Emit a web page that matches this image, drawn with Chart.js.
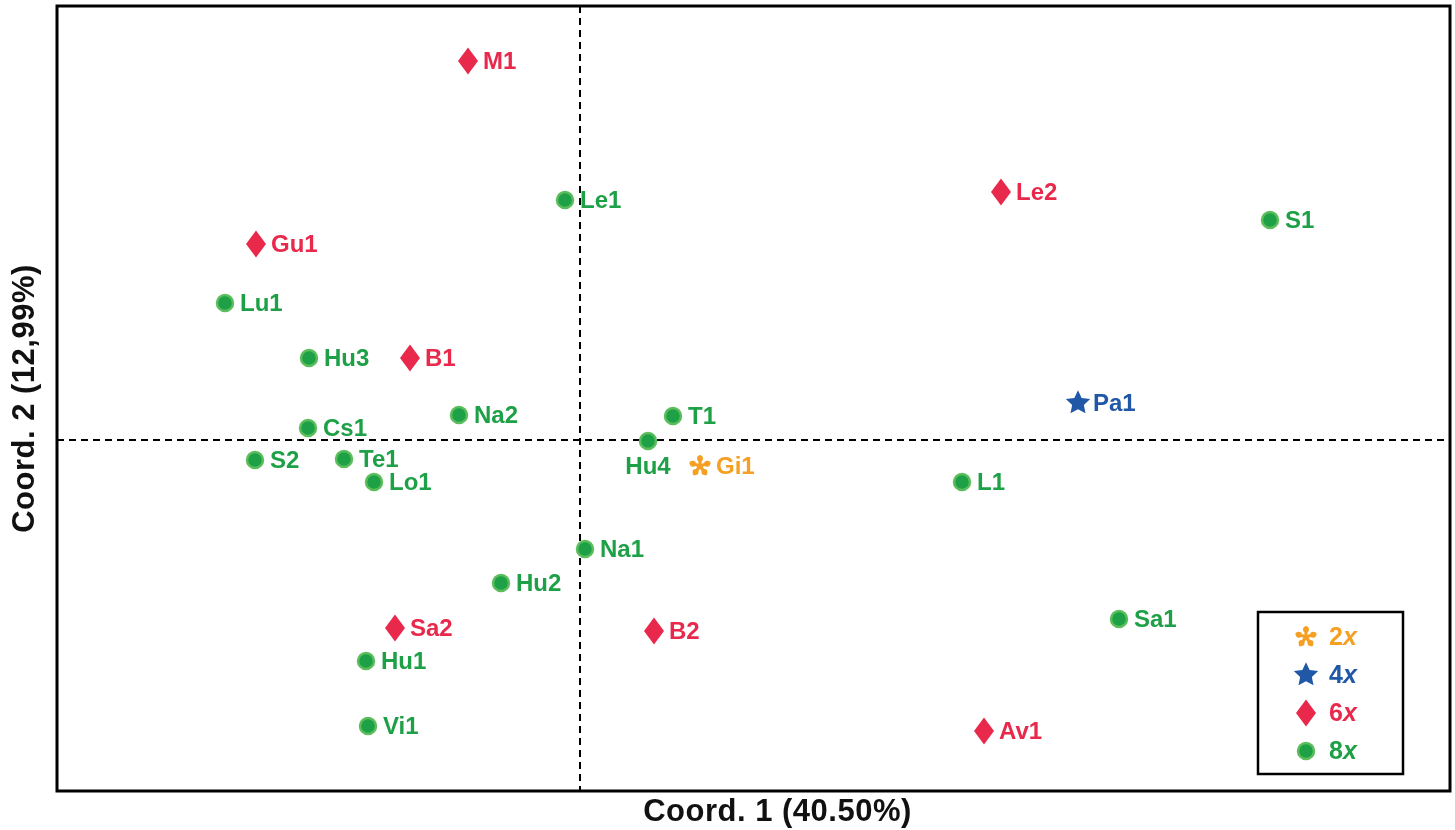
<!DOCTYPE html>
<html>
<head>
<meta charset="utf-8">
<script src="https://cdn.jsdelivr.net/npm/chart.js@4"></script>
<style>
  body{margin:0;background:#fff;}
  #wrap{width:1455px;height:830px;}
</style>
</head>
<body>
<div id="wrap"><canvas id="pcoa" width="1455" height="830"></canvas></div>
<script>
// PCoA coordinates (origin at the dashed lines)
const names2x=["Gi1"];
const x2x=[1.20];
const y2x=[-0.26];

const names4x=["Pa1"];
const x4x=[4.98];
const y4x=[0.37];

const names6x=["M1","Le2","Gu1","B1","Sa2","B2","Av1"];
const x6x=[-1.12,4.21,-3.24,-1.70,-1.85,0.74,4.04];
const y6x=[3.79,2.48,1.96,0.82,-1.88,-1.91,-2.91];

const names8x=["Le1","S1","Lu1","Hu3","Na2","T1","Cs1","Hu4","S2","Te1","Lo1","L1","Na1","Hu2","Sa1","Hu1","Vi1"];
const x8x=[-0.15,6.90,-3.55,-2.71,-1.21,0.93,-2.72,0.68,-3.25,-2.36,-2.06,3.82,0.05,-0.79,5.39,-2.14,-2.12];
const y8x=[2.40,2.20,1.37,0.82,0.25,0.24,0.12,-0.01,-0.20,-0.19,-0.42,-0.42,-1.09,-1.43,-1.79,-2.21,-2.86];

const levels=["2x","4x","6x","8x"];
const xTitle="Coord. 1 (40.50%)";
const yTitle="Coord. 2 (12,99%)";

const ORANGE='#f5a023', BLUE='#2157a7', RED='#e8294c', GREEN='#1ea047', GREEN_EDGE='#5cbd5c';

// marker drawing helpers
function drawAsterisk(ctx,cx,cy,r){
  ctx.save();ctx.strokeStyle=ORANGE;ctx.fillStyle=ORANGE;ctx.lineWidth=3.2;ctx.lineCap='round';
  for(let i=0;i<5;i++){
    const a=-Math.PI/2+i*2*Math.PI/5;
    const ex=cx+r*Math.cos(a), ey=cy+r*Math.sin(a);
    ctx.beginPath();ctx.moveTo(cx,cy);ctx.lineTo(ex,ey);ctx.stroke();
    ctx.beginPath();ctx.arc(cx+(r-2)*Math.cos(a),cy+(r-2)*Math.sin(a),3,0,Math.PI*2);ctx.fill();
  }
  ctx.restore();
}
function drawStar(ctx,cx,cy,r){
  ctx.save();ctx.fillStyle=BLUE;ctx.beginPath();
  for(let i=0;i<10;i++){
    const rr=i%2?r*0.48:r;
    const a=-Math.PI/2+i*Math.PI/5;
    ctx.lineTo(cx+rr*Math.cos(a),cy+rr*Math.sin(a));
  }
  ctx.closePath();ctx.fill();ctx.restore();
}
function drawDiamond(ctx,cx,cy,w,h){
  ctx.save();ctx.fillStyle=RED;ctx.beginPath();
  ctx.moveTo(cx,cy-h/2);ctx.lineTo(cx+w/2,cy);ctx.lineTo(cx,cy+h/2);ctx.lineTo(cx-w/2,cy);
  ctx.closePath();ctx.fill();ctx.restore();
}
function drawDot(ctx,cx,cy,r){
  ctx.save();ctx.fillStyle=GREEN;ctx.strokeStyle=GREEN_EDGE;ctx.lineWidth=2.5;
  ctx.beginPath();ctx.arc(cx,cy,r,0,Math.PI*2);ctx.fill();ctx.stroke();ctx.restore();
}
function makeIcon(w,h,fn){
  const c=document.createElement('canvas');c.width=w;c.height=h;
  fn(c.getContext('2d'),w/2,h/2);return c;
}
const icons={
  "2x":makeIcon(26,26,(c,x,y)=>drawAsterisk(c,x,y,9.5)),
  "4x":makeIcon(28,28,(c,x,y)=>drawStar(c,x,y,12.8)),
  "6x":makeIcon(24,30,(c,x,y)=>drawDiamond(c,x,y,20,27)),
  "8x":makeIcon(22,22,(c,x,y)=>drawDot(c,x,y,8))
};

const pts=(xs,ys,ns)=>xs.map((v,i)=>({x:v,y:ys[i],name:ns[i]}));
const datasets=[
  {label:"2x",data:pts(x2x,y2x,names2x),color:ORANGE},
  {label:"4x",data:pts(x4x,y4x,names4x),color:BLUE},
  {label:"6x",data:pts(x6x,y6x,names6x),color:RED},
  {label:"8x",data:pts(x8x,y8x,names8x),color:GREEN}
].map(d=>({label:d.label,data:d.data,labelColor:d.color,pointStyle:icons[d.label],pointRadius:10,pointHoverRadius:10,backgroundColor:d.color,borderColor:d.color}));

const FONT='"Liberation Sans", Arial, sans-serif';

const decor={
  id:'decor',
  beforeDatasetsDraw(chart){
    const {ctx,chartArea:a,scales:{x,y}}=chart;
    const x0=x.getPixelForValue(0), y0=y.getPixelForValue(0);
    ctx.save();ctx.strokeStyle='#000';ctx.lineWidth=2;ctx.setLineDash([7,5]);
    ctx.beginPath();ctx.moveTo(x0,a.top);ctx.lineTo(x0,a.bottom);ctx.stroke();
    ctx.beginPath();ctx.moveTo(a.left,y0);ctx.lineTo(a.right,y0);ctx.stroke();
    ctx.restore();
  },
  afterDatasetsDraw(chart){
    const {ctx,chartArea:a}=chart;
    ctx.save();
    // point labels
    ctx.font='bold 24px '+FONT;ctx.textBaseline='middle';
    chart.data.datasets.forEach((ds,di)=>{
      const meta=chart.getDatasetMeta(di);
      ctx.fillStyle=ds.labelColor;
      meta.data.forEach((el,i)=>{
        const nm=ds.data[i].name;
        if(nm==="Hu4"){ctx.textAlign='center';ctx.fillText(nm,el.x,el.y+26);}
        else{ctx.textAlign='left';ctx.fillText(nm,el.x+(ds.label==="2x"?16:15),el.y+1);}
      });
    });
    // frame
    ctx.strokeStyle='#000';ctx.lineWidth=3;ctx.setLineDash([]);
    ctx.strokeRect(a.left,a.top,a.right-a.left,a.bottom-a.top);
    // legend box
    const lx=1258,ly=612,lw=145,lh=162;
    ctx.lineWidth=2.5;ctx.strokeRect(lx,ly,lw,lh);
    levels.forEach((lv,i)=>{
      const cy=637+i*38, ic=icons[lv];
      ctx.drawImage(ic,1306-ic.width/2,cy-ic.height/2);
      const ds=chart.data.datasets[i];
      ctx.fillStyle=ds.labelColor;ctx.textAlign='left';
      ctx.font='bold 25px '+FONT;ctx.fillText(lv[0],1329,cy+1);
      const w=ctx.measureText(lv[0]).width;
      ctx.font='italic bold 25px '+FONT;ctx.fillText('x',1329+w,cy+1);
    });
    // axis titles
    ctx.fillStyle='#111';ctx.font='bold 31px '+FONT;ctx.textAlign='center';
    ctx.letterSpacing='0.5px';
    ctx.fillText(xTitle,(a.left+a.right)/2+24,812);
    ctx.translate(25,(a.top+a.bottom)/2);ctx.rotate(-Math.PI/2);
    ctx.fillText(yTitle,0,0);
    ctx.restore();
  }
};

new Chart(document.getElementById('pcoa'),{
  type:'scatter',
  data:{datasets:datasets},
  options:{
    responsive:false,animation:false,
    layout:{autoPadding:false,padding:{left:57,top:6,right:5,bottom:39}},
    plugins:{legend:{display:false},tooltip:{enabled:false}},
    scales:{
      x:{type:'linear',min:-5.23,max:8.70,display:false},
      y:{type:'linear',min:-3.51,max:4.34,display:false}
    }
  },
  plugins:[decor]
});
</script>
</body>
</html>
